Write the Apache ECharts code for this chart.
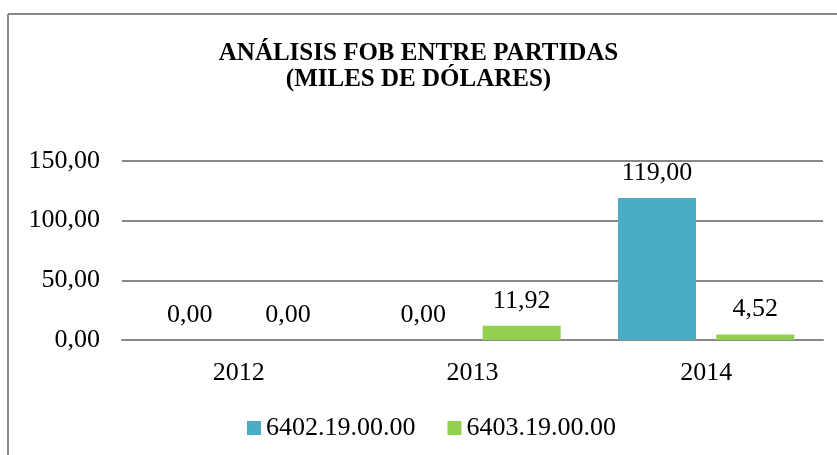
<!DOCTYPE html>
<html><head><meta charset="utf-8">
<script src="https://cdn.jsdelivr.net/npm/echarts@6/dist/echarts.min.js"></script>
<style>html,body{margin:0;padding:0;background:#fff}#c{width:837px;height:455px}</style>
</head><body><div id="c"></div>
<script>
const titleLines = ['ANÁLISIS FOB ENTRE PARTIDAS', '(MILES DE DÓLARES)'];
const categories = ['2012', '2013', '2014'];
const seriesNames = ['6402.19.00.00', '6403.19.00.00'];
const values6402 = [0, 0, 119.00];
const values6403 = [0, 11.92, 4.52];
const colors = ['#4BACC6', '#92D050'];

const font = '"Liberation Serif", "Times New Roman", serif';
const fmt = v => v.toFixed(2).replace('.', ',');
const fs = 26;

const chart = echarts.init(document.getElementById('c'));
chart.setOption({
  animation: false,
  backgroundColor: '#fff',
  textStyle: { fontFamily: font },
  title: {
    text: titleLines.join('\n'),
    left: 'center', top: 36,
    textStyle: { fontFamily: font, fontWeight: 'bold', fontSize: 25, color: '#000', lineHeight: 26 }
  },
  graphic: [
    { type: 'line', shape: { x1: 8, y1: 14, x2: 837, y2: 14 }, style: { stroke: '#888', lineWidth: 2 } },
    { type: 'line', shape: { x1: 8, y1: 14, x2: 8, y2: 455 }, style: { stroke: '#888', lineWidth: 2 } }
  ],
  legend: {
    top: 410, left: 242,
    itemWidth: 14, itemHeight: 14, itemGap: 32,
    icon: 'rect',
    textStyle: { fontFamily: font, fontSize: fs, color: '#000', padding: [0, 0, 0, 0] },
    data: seriesNames
  },
  grid: { left: 122, right: 14, top: 161, bottom: 115, containLabel: false },
  xAxis: {
    type: 'category', data: categories,
    axisLine: { lineStyle: { color: '#888', width: 2 } },
    axisTick: { show: false },
    axisLabel: { fontFamily: font, fontSize: fs, color: '#000', margin: 20 }
  },
  yAxis: {
    type: 'value', min: 0, max: 150, interval: 50,
    axisLine: { show: false }, axisTick: { show: false },
    splitLine: { lineStyle: { color: '#888', width: 2 } },
    axisLabel: { fontFamily: font, fontSize: fs, color: '#000', margin: 22, formatter: v => fmt(v) }
  },
  series: [
    { name: seriesNames[0], type: 'bar', data: values6402, barWidth: 78, barGap: '26%',
      itemStyle: { color: colors[0] },
      label: { show: true, position: 'top', distance: 12, fontFamily: font, fontSize: fs, color: '#000', formatter: p => fmt(p.value) } },
    { name: seriesNames[1], type: 'bar', data: values6403, barWidth: 78, barGap: '26%',
      itemStyle: { color: colors[1] },
      label: { show: true, position: 'top', distance: 12, fontFamily: font, fontSize: fs, color: '#000', formatter: p => fmt(p.value) } }
  ]
});
</script></body></html>
